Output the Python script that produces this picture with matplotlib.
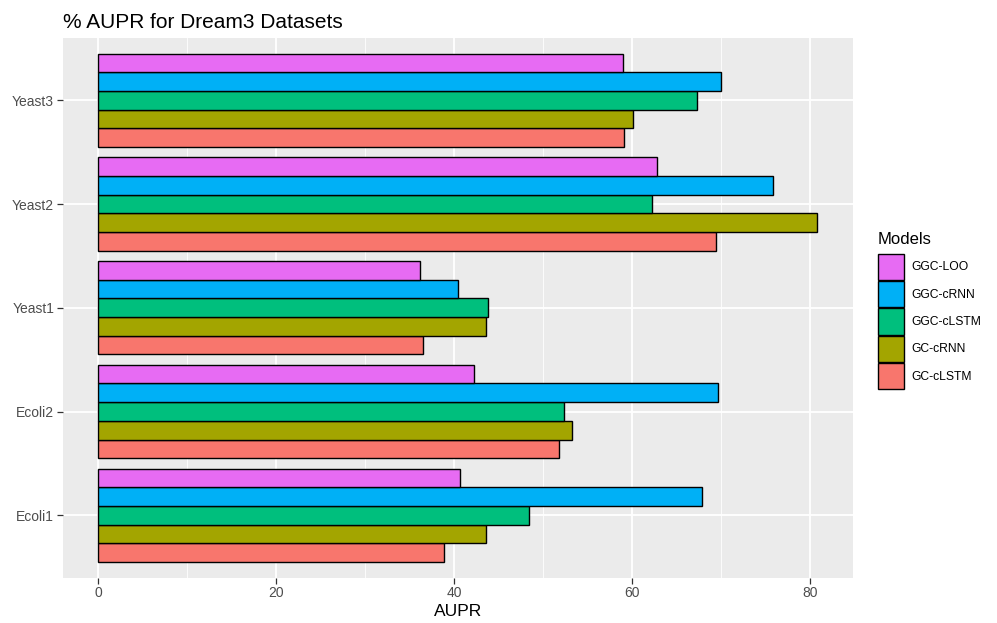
import numpy as np
import matplotlib.pyplot as plt
from matplotlib.patches import Patch

plt.rcParams['font.family'] = ['Liberation Sans', 'DejaVu Sans']

# datasets from bottom to top
datasets = ['Ecoli1', 'Ecoli2', 'Yeast1', 'Yeast2', 'Yeast3']
# models from bottom bar to top bar within each group
models = ['GC-cLSTM', 'GC-cRNN', 'GGC-cLSTM', 'GGC-cRNN', 'GGC-LOO']
colors = ['#F8766D', '#A3A500', '#00BF7D', '#00B0F6', '#E76BF3']

gc_clstm = [38.8, 51.8, 36.5, 69.4, 59.1]
gc_crnn = [43.6, 53.2, 43.6, 80.8, 60.1]
ggc_clstm = [48.4, 52.3, 43.8, 62.2, 67.3]
ggc_crnn = [67.9, 69.7, 40.4, 75.8, 70.0]
ggc_loo = [40.6, 42.2, 36.2, 62.8, 59.0]
values = [gc_clstm, gc_crnn, ggc_clstm, ggc_crnn, ggc_loo]

fig = plt.figure(figsize=(9.97, 6.23), dpi=100)
ax = fig.add_axes([62.5 / 997, 1 - 577.5 / 623, (853 - 62.5) / 997, (577.5 - 38) / 623])
ax.set_facecolor('#EBEBEB')

y = np.arange(1, len(datasets) + 1)
bar_h = 0.9 / len(models)
for i, (m, vals) in enumerate(zip(models, values)):
    pos = y - 0.45 + bar_h * (i + 0.5)
    ax.barh(pos, vals, height=bar_h, color=colors[i], edgecolor='black',
            linewidth=1.0, zorder=3, label=m)

xmax = max(max(v) for v in values)
ax.set_xlim(-0.05 * xmax, xmax * 1.05)
ax.set_ylim(0.4, len(datasets) + 0.6)

ax.set_xticks([0, 20, 40, 60, 80])
ax.set_xticks([10, 30, 50, 70], minor=True)
ax.set_yticks(y)
ax.set_yticklabels(datasets)
ax.grid(which='major', color='white', linewidth=1.3, zorder=0)
ax.grid(which='minor', axis='x', color='white', linewidth=0.6, zorder=0)
ax.set_axisbelow(True)
for s in ax.spines.values():
    s.set_visible(False)
ax.tick_params(which='major', length=4, width=0.9, color='#333333',
               labelcolor='#4D4D4D', labelsize=10, pad=2)
ax.tick_params(which='minor', length=0)

ax.set_xlabel('AUPR', fontsize=12.5, color='black', labelpad=3)
ax.set_title('% AUPR for Dream3 Datasets', fontsize=15, loc='left',
             x=0, pad=7)

handles = [Patch(facecolor=colors[i], edgecolor='black', linewidth=1.0)
           for i in range(len(models))][::-1]
leg = fig.legend(handles, models[::-1], title='Models', loc='upper left',
                 bbox_to_anchor=(873 / 997, 1 - 227 / 623), frameon=False,
                 fontsize=8.7, title_fontsize=12, handlelength=2.15,
                 handleheight=2.95, labelspacing=0.1, handletextpad=0.65,
                 borderaxespad=0)
leg._legend_box.align = 'left'
leg._legend_box.sep = 5

fig.savefig('out.png', dpi=100)
